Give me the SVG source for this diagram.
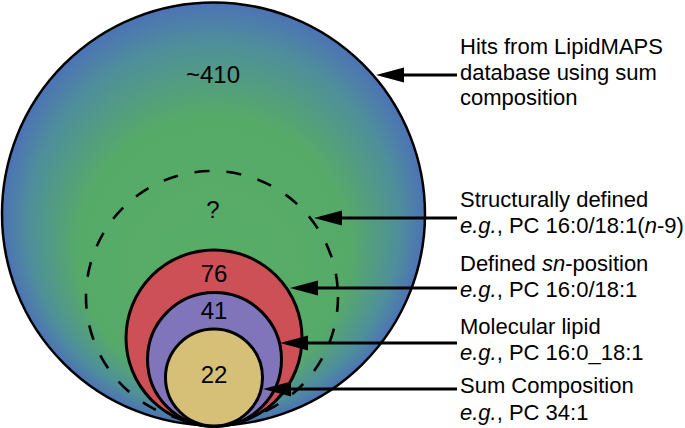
<svg xmlns="http://www.w3.org/2000/svg" width="685" height="428" viewBox="0 0 685 428">
  <defs>
    <radialGradient id="bg" gradientUnits="userSpaceOnUse" cx="213.5" cy="214" r="212" fx="213.5" fy="318">
      <stop offset="0" stop-color="#58ad65"/>
      <stop offset="0.64" stop-color="#56aa68"/>
      <stop offset="0.87" stop-color="#4f8f9a"/>
      <stop offset="1" stop-color="#4c72b6"/>
    </radialGradient>
    <marker id="ah" markerUnits="userSpaceOnUse" markerWidth="30" markerHeight="16" refX="8" refY="7.5" orient="auto" viewBox="0 0 30 16">
      <path d="M0,0 L28,7.5 L0,15 Z" fill="#000"/>
    </marker>
    <style>
      text { font-family: "Liberation Sans", Arial, Helvetica, sans-serif; fill: #000; }
      .lbl { font-size: 22px; }
      .num { font-size: 24px; text-anchor: middle; }
      .ring { stroke: #000; stroke-width: 3; }
      .conn { stroke: #000; stroke-width: 3; fill: none; marker-end: url(#ah); }
    </style>
  </defs>

  <g id="hits">
    <circle cx="213.5" cy="214" r="211.5" fill="url(#bg)" stroke="#000" stroke-width="2.5"/>
    <text class="num" x="213" y="83">~410</text>
  </g>

  <g id="structural">
    <circle cx="212" cy="297" r="126" fill="none" stroke="#000" stroke-width="2.6" stroke-dasharray="15 17"/>
    <text class="num" x="213" y="218">?</text>
  </g>

  <g id="sn-position">
    <circle class="ring" cx="214" cy="338" r="88" fill="#cd5057"/>
    <text class="num" x="214" y="282">76</text>
  </g>

  <g id="molecular">
    <circle class="ring" cx="214.5" cy="359.5" r="67" fill="#8075ba"/>
    <text class="num" x="214" y="319">41</text>
  </g>

  <g id="sum">
    <circle class="ring" cx="214" cy="377.5" r="48.5" fill="#d6c078"/>
    <text class="num" x="214" y="383">22</text>
  </g>

  <g id="connectors">
    <line class="conn" x1="457" y1="75" x2="396" y2="75"/>
    <line class="conn" x1="457" y1="218" x2="334" y2="218"/>
    <line class="conn" x1="457" y1="288" x2="310" y2="288"/>
    <line class="conn" x1="457" y1="343" x2="300" y2="343"/>
    <line class="conn" x1="457" y1="389" x2="283" y2="389"/>
  </g>

  <g id="labels">
    <text class="lbl" x="460" y="54">Hits from LipidMAPS</text>
    <text class="lbl" x="460" y="80">database using sum</text>
    <text class="lbl" x="460" y="105">composition</text>

    <text class="lbl" x="460" y="207">Structurally defined</text>
    <text class="lbl" x="460" y="233"><tspan font-style="italic">e.g.</tspan>, PC 16:0/18:1(<tspan font-style="italic">n</tspan>-9)</text>

    <text class="lbl" x="460" y="271">Defined <tspan font-style="italic">sn</tspan>-position</text>
    <text class="lbl" x="460" y="297"><tspan font-style="italic">e.g.</tspan>, PC 16:0/18:1</text>

    <text class="lbl" x="460" y="334">Molecular lipid</text>
    <text class="lbl" x="460" y="360"><tspan font-style="italic">e.g.</tspan>, PC 16:0_18:1</text>

    <text class="lbl" x="460" y="393">Sum Composition</text>
    <text class="lbl" x="460" y="420"><tspan font-style="italic">e.g.</tspan>, PC 34:1</text>
  </g>
</svg>
